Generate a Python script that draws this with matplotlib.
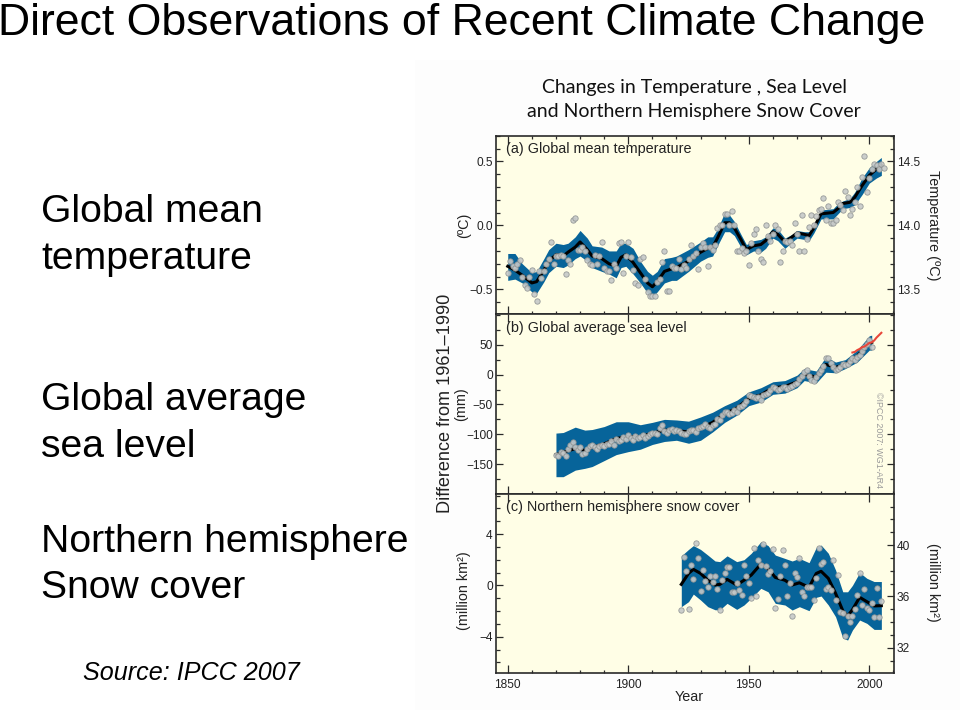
"""
Direct observations slide - temperature, sea level and snow cover panels
"""
import numpy as np
import matplotlib
matplotlib.use('Agg')
import matplotlib.pyplot as plt
from matplotlib.patches import Rectangle
from matplotlib.ticker import MultipleLocator

plt.rcParams['font.family'] = ['Liberation Sans', 'DejaVu Sans']

W, H = 960, 710

# (a) temperature, yearly points from 1850
temp_points = [
    -.37, -.28, -.32, -.33, -.30, -.27, -.40, -.47, -.49, -.40,
    -.35, -.54, -.59, -.36, -.41, -.36, -.30, -.26, -.13, -.30,
    -.24, -.24, -.23, -.24, -.38, -.27, -.30, .04, .06, -.19,
    -.19, -.17, -.20, -.27, -.30, -.31, -.23, -.30, -.24, -.13,
    -.33, -.36, -.36, -.43, -.30, -.33, -.14, -.13, -.37, -.24,
    -.13, -.25, -.35, -.45, -.47, -.26, -.25, -.42, -.52, -.55,
    -.55, -.55, -.44, -.42, -.29, -.20, -.51, -.51, -.32, -.33,
    -.33, -.26, -.34, -.31, -.33, -.26, -.15, -.24, -.22, -.34,
    -.17, -.14, -.17, -.32, -.17, -.19, -.15, -.02, .00, .00,
    .09, .09, .00, .11, .00, -.20, -.20, -.18, -.22, -.20,
    -.31, -.14, -.07, -.03, -.20, -.26, -.29, .00, -.08, -.12,
    -.07, .00, -.03, -.29, -.20, -.12, -.13, -.12, -.15, .02,
    -.07, -.20, .08, -.20, -.11, -.01, .08, .00, .07, .12,
    .13, .21, .04, .15, .02, .02, .04, .18, .16, .12,
    .27, .22, .08, .13, .18, .30, .15, .38, .54, .26,
    .37, .44, .48, .47, .44, .48, .45,
]
temp_years = [1850, 1853, 1856, 1860, 1862, 1865, 1867, 1870, 1873, 1875, 1878, 1880,
              1883, 1885, 1889, 1892, 1895, 1897, 1899, 1902, 1905, 1908, 1910, 1912,
              1915, 1918, 1920, 1925, 1930, 1933, 1935, 1937, 1940, 1942, 1944, 1947,
              1949, 1952, 1955, 1957, 1960, 1962, 1965, 1968, 1970, 1973, 1975, 1977,
              1980, 1985, 1987, 1989, 1992, 1994, 1997, 2000, 2003, 2005]
temp_smooth = [-.32, -.35, -.39, -.45, -.44, -.35, -.28, -.23, -.24, -.21, -.17, -.13,
               -.19, -.24, -.26, -.30, -.32, -.25, -.23, -.29, -.37, -.45, -.48, -.44,
               -.36, -.34, -.33, -.28, -.21, -.18, -.17, -.10, .02, .02, -.02, -.12,
               -.19, -.16, -.15, -.12, -.05, -.07, -.13, -.09, -.06, -.07, -.08, -.02,
               .09, .10, .13, .17, .18, .22, .31, .39, .44, .47]
temp_upper = [-.22, -.22, -.30, -.37, -.36, -.26, -.19, -.14, -.15, -.14, -.09, -.04,
              -.10, -.16, -.17, -.20, -.20, -.14, -.14, -.18, -.28, -.36, -.39, -.36,
              -.26, -.25, -.24, -.19, -.13, -.09, -.09, -.03, .10, .08, .03, -.08,
              -.15, -.12, -.11, -.09, -.02, -.03, -.10, -.07, -.04, -.05, -.05, .01,
              .12, .13, .17, .19, .21, .26, .37, .45, .50, .53]
temp_lower = [-.43, -.42, -.45, -.52, -.53, -.44, -.37, -.32, -.33, -.31, -.26, -.24,
              -.28, -.33, -.36, -.38, -.41, -.33, -.32, -.38, -.45, -.53, -.56, -.52,
              -.45, -.43, -.43, -.36, -.28, -.25, -.24, -.16, -.05, -.05, -.08, -.18,
              -.23, -.20, -.21, -.18, -.10, -.12, -.18, -.13, -.10, -.11, -.12, -.06,
              .05, .05, .09, .13, .14, .16, .24, .33, .37, .39]

# (b) sea level, yearly points from 1870
sea_points = [
    -134, -136, -130, -132, -137, -125, -118, -113, -122, -127,
    -122, -133, -132, -124, -120, -118, -121, -124, -120, -118,
    -119, -116, -116, -112, -118, -108, -111, -110, -105, -108,
    -101, -107, -110, -103, -107, -104, -102, -106, -103, -100,
    -97, -97, -100, -90, -84, -94, -98, -92, -91, -94,
    -93, -95, -97, -99, -100, -95, -93, -92, -96, -90,
    -88, -86, -83, -88, -90, -84, -82, -74, -76, -68,
    -62, -63, -66, -65, -60, -62, -55, -52, -50, -45,
    -35, -36, -38, -40, -38, -42, -35, -32, -30, -25,
    -20, -22, -25, -24, -20, -21, -24, -20, -19, -15,
    -14, -8, -3, 5, 7, -2, -9, -10, -4, 3,
    8, 15, 27, 28, 20, 12, 8, 9, 12, 18,
    16, 18, 22, 28, 25, 30, 33, 40, 47, 52,
    58, 46,
]
sea_years = [1870, 1873, 1878, 1882, 1885, 1890, 1895, 1900, 1905, 1910, 1915, 1920, 1925,
             1930, 1935, 1940, 1945, 1950, 1955, 1960, 1965, 1970, 1973, 1978, 1982, 1986,
             1990, 1995, 2000, 2001]
sea_smooth = [-134, -130, -124, -127, -122, -116, -107, -104, -104, -98, -93, -94, -96,
              -90, -80, -66, -56, -40, -34, -22, -20, -12, 0, -4, 17, 12, 17, 31, 53, 54]
sea_upper = [-98, -97, -88, -93, -92, -87, -79, -79, -84, -80, -75, -76, -78,
             -71, -63, -52, -43, -29, -22, -12, -10, -1, 10, 6, 30, 21, 25, 41, 65, 66]
sea_lower = [-171, -171, -160, -157, -154, -144, -134, -129, -125, -117, -112, -110, -115,
             -110, -96, -80, -68, -52, -46, -33, -31, -22, -10, -14, 4, 3, 10, 21, 41, 41]
sea_ticks = [-150, -100, -50, 0, 50]
satellite_years = [1993, 1994, 1995, 1996, 1997, 1998, 1999, 2000, 2001, 2002, 2003, 2004, 2005]
satellite_sea = [37, 38, 41, 43, 46, 47, 50, 53, 54, 57, 62, 66, 70]

# (c) snow cover, yearly points from 1922
snow_points = [
    -1.95, 2.2, 1.15, -1.85, 1.6, .5, 3.3, 2.1,
    -.45, 1.2, .35, -.15, .75, .25, .75, -.3, -1.95, .45,
    .95, 1.4, 1.4, -.55, -.55, .15, -.35, -.75, 1.6, .7,
    .2, -1.0, 2.95, -.8, 2.0, 1.55, 3.2, 1.5, .9, 1.15,
    2.8, -1.8, -1.05, .75, 2.75, 1.6, -.85, .15, -2.4, .95,
    .65, 2.1, -.55, -.85, -.15, -.15, -.15, -1.1, .55, 2.95,
    1.7, 1.85, -.25, -.1, -.35, 2.0, -1.15, .8, -2.05, -2.15,
    -3.95, -2.35, -2.85, -2.35, -1.85, -.75, 1.0, -1.5, -.25, -1.75,
    -1.9, -1.4, -2.5, -.2, -2.5, -1.2,
]
snow_years = [1922, 1925, 1927, 1930, 1933, 1936, 1938, 1941, 1945, 1948, 1951, 1955, 1958,
              1961, 1965, 1968, 1971, 1975, 1978, 1980, 1983, 1986, 1989, 1991, 1993, 1996,
              1999, 2002, 2005]
snow_smooth = [.08, .93, 1.25, .93, .4, .03, .08, .47, .03, .4, .8, 1.66, 1.3,
               .62, .4, .03, .2, -.15, .93, 1.1, .55, -.62, -1.97, -2.4, -1.9, -.93,
               -1.27, -1.6, -1.58]
snow_upper = [2.3, 2.8, 3.1, 2.8, 2.36, 1.9, 1.85, 2.3, 1.85, 2.0, 2.5, 3.4, 3.1,
              2.36, 2.1, 1.9, 2.1, 1.77, 2.96, 3.14, 2.5, 1.2, -.5, -.5, 0, 1.0,
              .55, .3, .3]
snow_lower = [-1.66, -1.27, -.68, -1.14, -1.66, -1.9, -1.9, -1.4, -1.87, -1.53, -1.0, -.23, -.5,
              -1.4, -1.53, -1.92, -1.66, -1.97, -.93, -.83, -1.53, -2.44, -4.1, -4.26, -3.48, -2.7,
              -2.96, -3.43, -3.43]

slide_labels = ['Global mean', 'temperature', 'Global average', 'sea level',
                'Northern hemisphere', 'Snow cover']
slide_baselines = [222, 269, 410, 457, 552, 598]

BAND = '#07649A'
PANEL = '#FFFEE6'
INK = '#2A2A2A'
LEFT, RIGHT = 495.7, 894


def style_y(ax):
    ax.tick_params(axis='y', which='major', direction='in', length=5, width=0.9,
                   color=INK, labelsize=8.6, labelcolor='#222222', pad=2.2)
    ax.tick_params(axis='y', which='minor', direction='in', length=2.8, width=0.9, color=INK)


def panel_axes(fig, top, bottom):
    """Axes placed by pixel edges"""
    ax = fig.add_axes([LEFT / W, 1 - bottom / H, (RIGHT - LEFT) / W, (bottom - top) / H])
    ax.set_facecolor(PANEL)
    ax.set_xlim(1845, 2010.25)
    for spine in ax.spines.values():
        spine.set_color(INK)
        spine.set_linewidth(1.2)
    ax.xaxis.set_major_locator(MultipleLocator(50))
    ax.xaxis.set_minor_locator(MultipleLocator(10))
    ax.tick_params(axis='x', which='major', direction='in', top=True, length=5.8,
                   width=0.9, color=INK, labelbottom=False)
    ax.tick_params(axis='x', which='minor', direction='in', length=2.5, width=0.9, color=INK)
    style_y(ax)
    return ax


def draw_series(ax, point_x, points, years, smooth, upper, lower):
    ax.fill_between(years, lower, upper, color=BAND, linewidth=0, zorder=2)
    ax.plot(years, smooth, color='black', linewidth=2.2, solid_joinstyle='round', zorder=3)
    ax.scatter(point_x, points, s=15, facecolor='#C6C9C9', edgecolor='#8E9292',
               linewidth=0.6, alpha=0.9, zorder=4)


def right_axis(ax, offset, major, minor):
    ax2 = ax.twinx()
    low, high = ax.get_ylim()
    ax2.set_ylim(low + offset, high + offset)
    ax2.yaxis.set_major_locator(MultipleLocator(major))
    ax2.yaxis.set_minor_locator(MultipleLocator(minor))
    style_y(ax2)
    for spine in ax2.spines.values():
        spine.set_visible(False)
    return ax2


def put_text(fig, x, y, text, **kwargs):
    """Text placed by pixel position"""
    fig.text(x / W, 1 - y / H, text, **kwargs)


def main():
    fig = plt.figure(figsize=(W / 100, H / 100), dpi=100)

    # faint grey of the pasted figure
    fig.add_artist(Rectangle((415 / W, 0), 1 - 415 / W, 1 - 60 / H, transform=fig.transFigure,
                             facecolor='#FDFDFD', edgecolor='none', zorder=-5))

    # slide text
    put_text(fig, -2, 35, 'Direct Observations of Recent Climate Change', fontsize=32.1,
             color='black', va='baseline')
    for label, base in zip(slide_labels, slide_baselines):
        put_text(fig, 41, base, label, fontsize=28.2, color='black', va='baseline')
    put_text(fig, 83, 680, 'Source: IPCC 2007', fontsize=18.1, style='italic', color='black',
             va='baseline')

    put_text(fig, 694, 88, 'Changes in Temperature , Sea Level', fontsize=14, family='Lato',
             ha='center', va='center', color='#111111')
    put_text(fig, 694, 112, 'and Northern Hemisphere Snow Cover', fontsize=14, family='Lato',
             ha='center', va='center', color='#111111')

    # (a)
    ax_a = panel_axes(fig, 135.7, 314.3)
    ax_a.set_ylim(-0.695, 0.7)
    ax_a.yaxis.set_major_locator(MultipleLocator(0.5))
    ax_a.yaxis.set_minor_locator(MultipleLocator(0.1))
    ax_a.yaxis.set_major_formatter(lambda v, pos: f'{v:.1f}'.replace('-', '\u2212'))
    ax_a.tick_params(axis='x', which='minor', top=True)
    draw_series(ax_a, np.arange(1850, 1850 + len(temp_points)), temp_points,
                temp_years, temp_smooth, temp_upper, temp_lower)
    ax2_a = right_axis(ax_a, 14.0, 0.5, 0.1)
    ax2_a.yaxis.set_major_formatter(lambda v, pos: f'{v:.1f}')
    put_text(fig, 506, 149, '(a) Global mean temperature', fontsize=10.4, va='center', color='#222222')

    # (b)
    ax_b = panel_axes(fig, 314.3, 494)
    ax_b.set_ylim(-200, 101)
    ax_b.set_yticks(sea_ticks)
    ax_b.yaxis.set_minor_locator(MultipleLocator(25))
    draw_series(ax_b, np.arange(1870, 1870 + len(sea_points)), sea_points,
                sea_years, sea_smooth, sea_upper, sea_lower)
    ax_b.plot(satellite_years, satellite_sea, color='#E8473A', linewidth=1.5, zorder=5)
    ax_b.tick_params(axis='y', which='both', right=True)
    put_text(fig, 506, 328, '(b) Global average sea level', fontsize=10.4, va='center', color='#222222')
    put_text(fig, 878, 440, '\u00a9IPCC 2007: WG1-AR4', fontsize=6.4, rotation=270, ha='center',
             va='center', color='#9A9A9A')

    # (c)
    ax_c = panel_axes(fig, 494, 673.3)
    ax_c.set_ylim(-6.85, 7.12)
    ax_c.yaxis.set_major_locator(MultipleLocator(4))
    ax_c.yaxis.set_minor_locator(MultipleLocator(1))
    draw_series(ax_c, np.arange(1922, 1922 + len(snow_points)), snow_points,
                snow_years, snow_smooth, snow_upper, snow_lower)
    ax_c.tick_params(axis='x', which='major', labelbottom=True, labelsize=8.6,
                     labelcolor='#222222', pad=4)
    right_axis(ax_c, 36.86, 4, 1)
    put_text(fig, 506, 507, '(c) Northern hemisphere snow cover', fontsize=10.4, va='center', color='#222222')

    # axis titles
    put_text(fig, 445, 403, 'Difference from 1961\u20131990', fontsize=13.1, rotation=90,
             ha='center', va='center', color='#222222')
    put_text(fig, 461, 404, '(mm)', fontsize=10.4, rotation=90, ha='center', va='center', color='#222222')
    put_text(fig, 464, 225, '(\u00baC)', fontsize=10.4, rotation=90, ha='center', va='center', color='#222222')
    put_text(fig, 464, 591, '(million km\u00b2)', fontsize=10.4, rotation=90, ha='center', va='center', color='#222222')
    put_text(fig, 933, 225, 'Temperature (\u00baC)', fontsize=10.4, rotation=270, ha='center', va='center', color='#222222')
    put_text(fig, 933, 582, '(million km\u00b2)', fontsize=10.4, rotation=270, ha='center', va='center', color='#222222')
    put_text(fig, 689, 697, 'Year', fontsize=10.4, ha='center', va='center', color='#222222')

    fig.savefig('out.png', dpi=100)
    plt.close(fig)


if __name__ == "__main__":
    main()
